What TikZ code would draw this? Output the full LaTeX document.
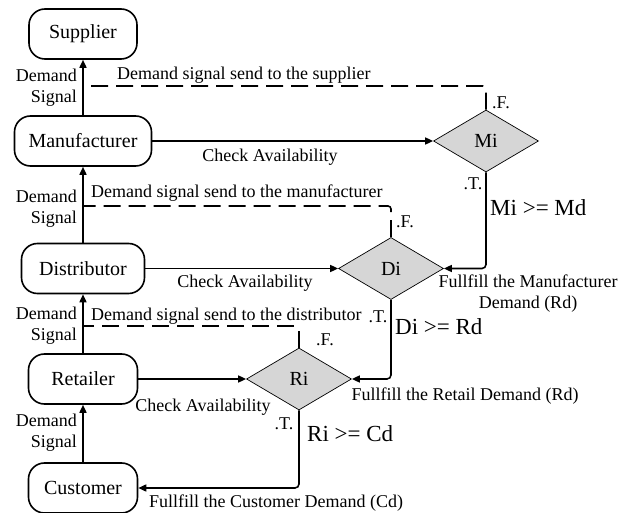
\documentclass[tikz,border=0pt]{standalone}
\usepackage{fontspec}
\setmainfont{Liberation Serif}
\usetikzlibrary{shapes.geometric,arrows.meta}
\begin{document}
\begin{tikzpicture}[x=1pt,y=-1pt,
  box/.style={draw,line width=1.6pt,rounded corners=16pt,minimum height=50pt,inner sep=0pt,font=\fontsize{20}{24}\selectfont},
  dia/.style={diamond,draw,line width=0.7pt,fill=black!16,minimum width=105pt,minimum height=62pt,inner sep=0pt,font=\fontsize{20}{24}\selectfont},
  arr/.style={line width=1.6pt,-{Triangle[length=8pt,width=7pt]}},
  dsh/.style={line width=1.6pt,dash pattern=on 17pt off 8pt},
  lbl/.style={inner sep=0pt,font=\fontsize{18}{21}\selectfont},
  cond/.style={inner sep=0pt,font=\fontsize{23}{26}\selectfont}
]
\useasboundingbox (0,0) rectangle (630,513);
\begin{scope}
\clip (0,0) rectangle (630,513);
% boxes
\node[box,minimum width=108pt] (sup) at (83,34) {Supplier};
\node[box,minimum width=137pt] (man) at (83,141) {Manufacturer};
\node[box,minimum width=123pt] (dis) at (83,268.5) {Distributor};
\node[box,minimum width=109pt] (ret) at (83,379) {Retailer};
\node[box,minimum width=109pt] (cus) at (83,488) {Customer};
% diamonds
\node[dia] (mi) at (486,141) {Mi};
\node[dia] (di) at (391,268.5) {Di};
\node[dia] (ri) at (299,379) {Ri};
% demand signal arrows
\draw[arr] (man.north) -- (sup.south);
\draw[arr] (dis.north) -- (man.south);
\draw[arr] (ret.north) -- (dis.south);
\draw[arr] (cus.north) -- (ret.south);
% check availability
\draw[arr] (man.east) -- (mi.west);
\draw[arr] (dis.east) -- (di.west);
\draw[arr] (ret.east) -- (ri.west);
% fullfill
\draw[arr,rounded corners=4pt] (mi.south) |- (di.east);
\draw[arr,rounded corners=4pt] (di.south) |- (ri.east);
\draw[arr,rounded corners=4pt] (ri.south) |- (cus.east);
% dashed
\coordinate (d1) at (83,86);
\coordinate (d2) at (83,206);
\coordinate (d3) at (83,326);
\draw[dsh,rounded corners=3pt] (mi.north) |- (d1);
\draw[dsh,rounded corners=3pt] (di.north) |- (d2);
\draw[dsh,rounded corners=3pt] (ri.north) |- (d3);
% labels
\node[lbl,align=right,anchor=east] (ds1) at (77,88) {Demand\\Signal};
\node[lbl,align=right,anchor=east] (ds2) at (77,209) {Demand\\Signal};
\node[lbl,align=right,anchor=east] (ds3) at (77,326) {Demand\\Signal};
\node[lbl,align=right,anchor=east] (ds4) at (77,433) {Demand\\Signal};
\node[lbl,anchor=west] (s1) at (117,75) {Demand signal send to the supplier};
\node[lbl,anchor=west] (s2) at (91,193) {Demand signal send to the manufacturer};
\node[lbl,anchor=west] (s3) at (91,316) {Demand signal send to the distributor};
\node[lbl] (c1) at (270,157) {Check Availability};
\node[lbl] (c2) at (245,283) {Check Availability};
\node[lbl] (c3) at (203,407) {Check Availability};
\node[lbl,align=center] (fl1) at (528,294) {Fullfill the Manufacturer\\Demand (Rd)};
\node[lbl] (fl2) at (465,396) {Fullfill the Retail Demand (Rd)};
\node[lbl] (fl3) at (276,503) {Fullfill the Customer Demand (Cd)};
\node[cond,anchor=west] (k1) at (490,208) {Mi >= Md};
\node[cond,anchor=west] (k2) at (395,327) {Di >= Rd};
\node[cond,anchor=west] (k3) at (307,434) {Ri >= Cd};
\node[lbl] (t1) at (473,184) {.T.};
\node[lbl] (t2) at (378,317) {.T.};
\node[lbl] (t3) at (284,424) {.T.};
\node[lbl] (f1) at (501,103) {.F.};
\node[lbl] (f2) at (405,222) {.F.};
\node[lbl] (f3) at (325,340) {.F.};
\end{scope}
\end{tikzpicture}
\end{document}
